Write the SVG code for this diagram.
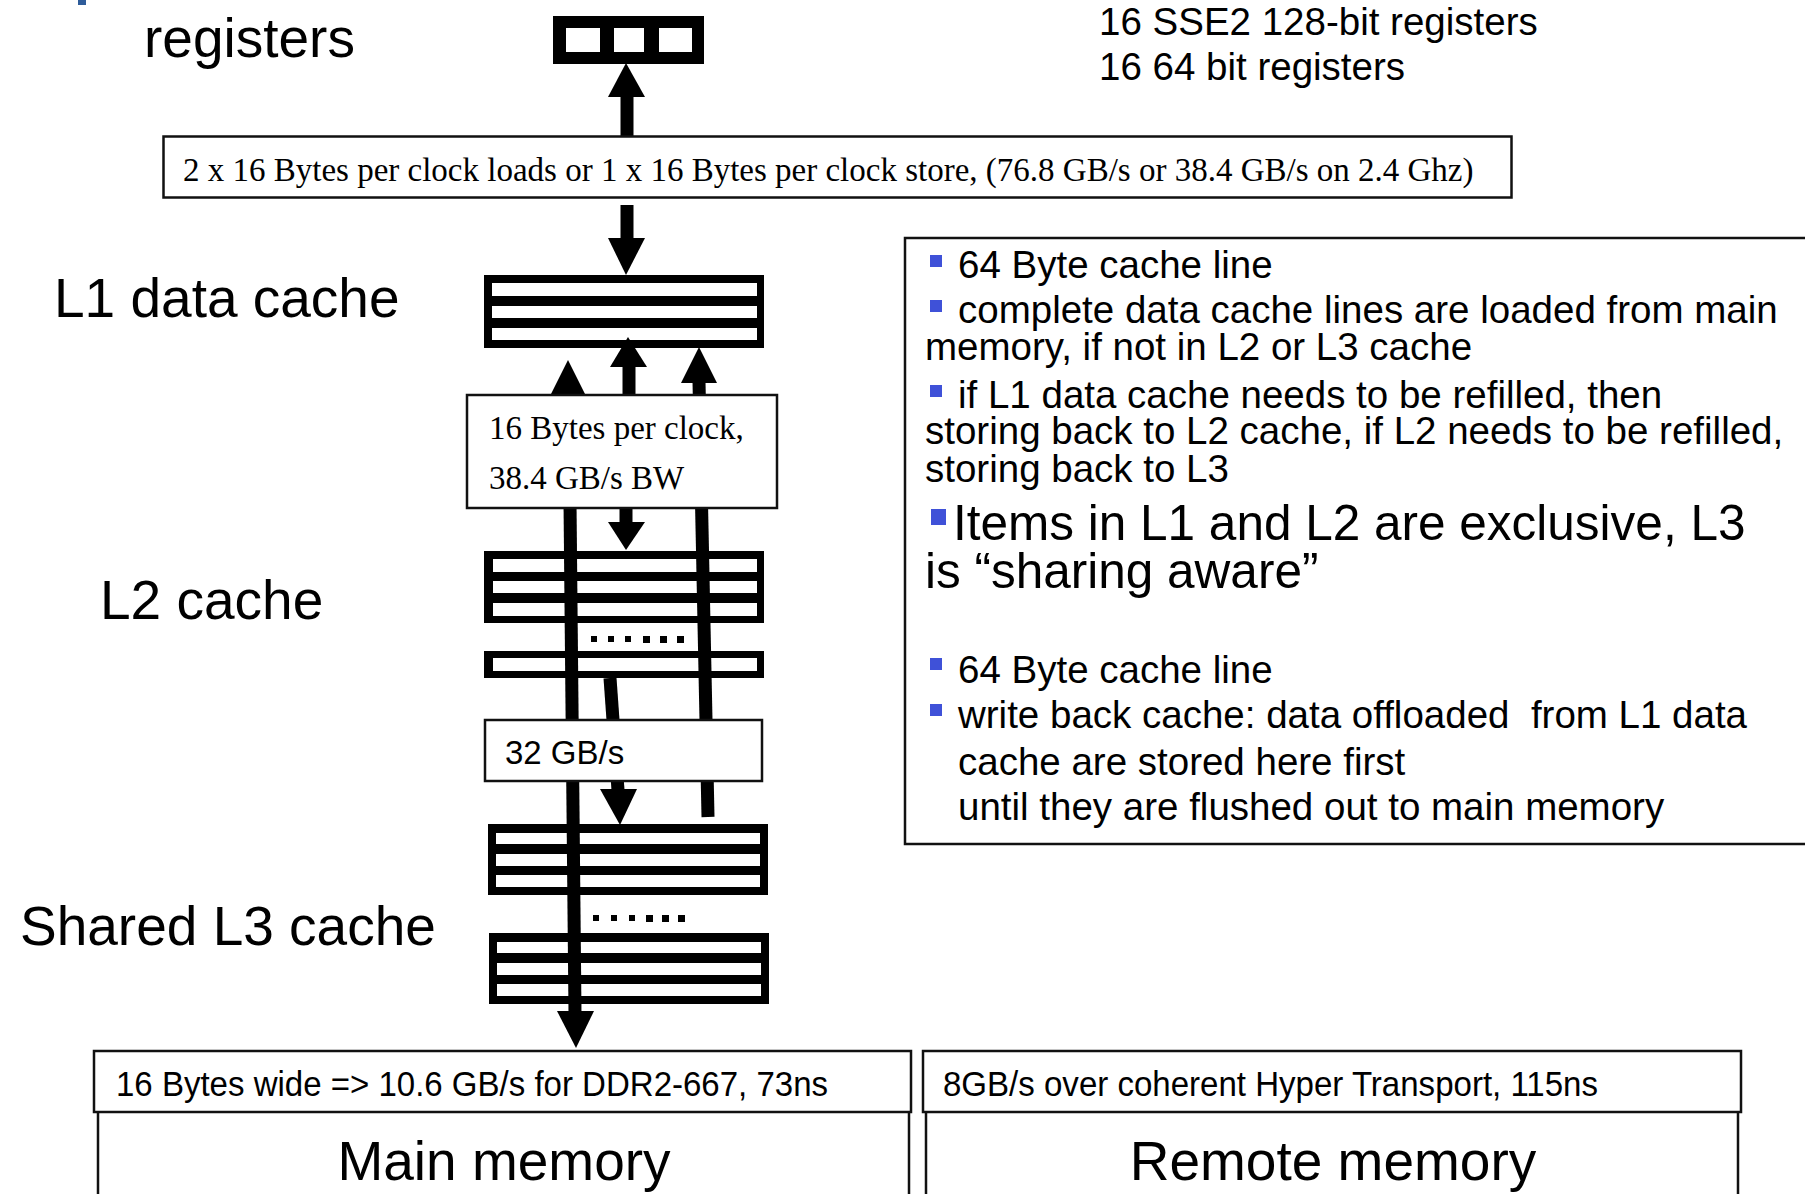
<svg xmlns="http://www.w3.org/2000/svg" width="1805" height="1194" viewBox="0 0 1805 1194">
<style>
.sans{font-family:"Liberation Sans",Arial,sans-serif;fill:#000}
.serif{font-family:"Liberation Serif","Times New Roman",serif;fill:#000}
.big{font-size:55px}
.mid{font-size:38.5px}
.box{fill:#fff;stroke:#111;stroke-width:2.5}
.thin{fill:none;stroke:#111;stroke-width:2.5}
.blk{fill:#000}
.wht{fill:#fff}
.shaft{stroke:#000;stroke-width:13;fill:none}
.head{fill:#000}
.bul{fill:#3f51d8}
</style>
<rect width="1805" height="1194" fill="#fff"/>
<rect x="78" y="0" width="8" height="5" fill="#2e5c9a"/>

<g id="registers">
  <rect class="blk" x="553" y="16" width="151" height="48"/>
  <rect class="wht" x="566" y="28" width="34" height="24"/>
  <rect class="wht" x="614" y="28" width="30" height="24"/>
  <rect class="wht" x="659" y="28" width="33" height="24"/>
  <text class="sans big" x="144" y="57">registers</text>
</g>
<g id="register-info">
  <text class="sans" font-size="38.5" x="1099" y="35">16 SSE2 128-bit registers</text>
  <text class="sans" font-size="38.5" x="1099" y="80">16 64 bit registers</text>
</g>

<g id="l1-cache">
  <rect class="blk" x="484" y="275" width="280" height="73"/>
  <rect class="wht" x="492" y="283" width="265" height="13"/>
  <rect class="wht" x="492" y="306" width="265" height="12"/>
  <rect class="wht" x="492" y="328" width="265" height="12"/>
  <text class="sans big" x="54" y="317">L1 data cache</text>
</g>

<g id="l2-cache">
  <rect class="blk" x="484" y="551" width="280" height="72"/>
  <rect class="wht" x="493" y="559" width="264" height="13"/>
  <rect class="wht" x="493" y="581" width="264" height="12"/>
  <rect class="wht" x="493" y="603" width="264" height="13"/>
  <rect class="blk" x="484" y="651" width="280" height="27"/>
  <rect class="wht" x="493" y="658" width="264" height="13"/>
  <g class="blk">
    <rect x="591" y="636" width="6" height="6"/><rect x="608" y="636" width="6" height="6"/><rect x="625" y="636" width="6" height="6"/>
    <rect x="643" y="636" width="7" height="7"/><rect x="660" y="636" width="7" height="7"/><rect x="677" y="636" width="7" height="7"/>
  </g>
  <text class="sans big" x="100" y="619">L2 cache</text>
</g>

<g id="l3-cache">
  <rect class="blk" x="488" y="824" width="280" height="71"/>
  <rect class="wht" x="496" y="833" width="264" height="11"/>
  <rect class="wht" x="496" y="854" width="264" height="12"/>
  <rect class="wht" x="496" y="875" width="264" height="12"/>
  <rect class="blk" x="489" y="933" width="280" height="71"/>
  <rect class="wht" x="497" y="942" width="264" height="11"/>
  <rect class="wht" x="497" y="963" width="264" height="12"/>
  <rect class="wht" x="497" y="984" width="264" height="12"/>
  <g class="blk">
    <rect x="593" y="915" width="6" height="6"/><rect x="611" y="915" width="6" height="6"/><rect x="629" y="915" width="6" height="6"/>
    <rect x="646" y="915" width="7" height="7"/><rect x="662" y="915" width="7" height="7"/><rect x="678" y="915" width="7" height="7"/>
  </g>
  <text class="sans big" x="20" y="945">Shared L3 cache</text>
</g>

<g id="connectors">
  <!-- box1 -> registers -->
  <line class="shaft" x1="627" y1="137" x2="627" y2="96"/>
  <polygon class="head" points="608,97 645,97 626,63"/>
  <!-- box1 -> L1 -->
  <line class="shaft" x1="627" y1="205" x2="627" y2="239"/>
  <polygon class="head" points="608,238 645,238 626,275"/>
  <!-- left long line: up to L1 and down to main memory -->
  <polygon class="head" points="550,396 586,396 568,360"/>
  <line class="shaft" x1="569" y1="400" x2="575" y2="1013"/>
  <polygon class="head" points="557,1011 594,1011 576,1048"/>
  <!-- middle: L2 -> L1 -->
  <line class="shaft" x1="629" y1="396" x2="629" y2="366"/>
  <polygon class="head" points="610,367 647,367 628,337"/>
  <!-- middle: L1 -> L2 -->
  <line class="shaft" x1="626" y1="505" x2="626" y2="523"/>
  <polygon class="head" points="608,522 645,522 626,550"/>
  <!-- right line: up to L1 -->
  <polygon class="head" points="681,383 717,383 699,347"/>
  <line class="shaft" x1="699" y1="382" x2="708" y2="817"/>
  <!-- middle: L2 -> L3 -->
  <line class="shaft" x1="610" y1="678" x2="618" y2="790"/>
  <polygon class="head" points="600,789 637,789 620,825"/>
</g>

<g id="bw-registers">
  <rect class="box" x="163.5" y="136.5" width="1348" height="61"/>
  <text class="serif" font-size="33" x="183" y="181">2 x 16 Bytes per clock loads or 1 x 16 Bytes per clock store, (76.8 GB/s or 38.4 GB/s on 2.4 Ghz)</text>
</g>

<g id="bw-l1-l2">
  <rect class="box" x="467" y="395" width="310" height="113"/>
  <text class="serif" font-size="33" x="489" y="439">16 Bytes per clock,</text>
  <text class="serif" font-size="33" x="489" y="489">38.4 GB/s BW</text>
</g>

<g id="bw-l2-l3">
  <rect class="box" x="485" y="720" width="277" height="61"/>
  <text class="sans" font-size="33" x="505" y="764">32 GB/s</text>
</g>

<g id="info">
  <rect class="box" x="905" y="238" width="920" height="606"/>
  <rect class="bul" x="930" y="255" width="12" height="12"/>
  <text class="sans mid" x="958" y="278">64 Byte cache line</text>
  <rect class="bul" x="930" y="300" width="12" height="12"/>
  <text class="sans mid" x="958" y="323">complete data cache lines are loaded from main</text>
  <text class="sans mid" x="925" y="360">memory, if not in L2 or L3 cache</text>
  <rect class="bul" x="930" y="385" width="12" height="12"/>
  <text class="sans mid" x="958" y="408">if L1 data cache needs to be refilled, then</text>
  <text class="sans mid" x="925" y="444">storing back to L2 cache, if L2 needs to be refilled,</text>
  <text class="sans mid" x="925" y="482">storing back to L3</text>
  <rect class="bul" x="931" y="509" width="15" height="16"/>
  <text class="sans" font-size="49.5" x="953" y="540">Items in L1 and L2 are exclusive, L3</text>
  <text class="sans" font-size="49.5" x="925" y="588">is “sharing aware”</text>
  <rect class="bul" x="930" y="658" width="12" height="12"/>
  <text class="sans mid" x="958" y="683">64 Byte cache line</text>
  <rect class="bul" x="930" y="704" width="12" height="12"/>
  <text class="sans mid" x="958" y="728" xml:space="preserve">write back cache: data offloaded  from L1 data</text>
  <text class="sans mid" x="958" y="775">cache are stored here first</text>
  <text class="sans mid" x="958" y="820">until they are flushed out to main memory</text>
</g>

<g id="main-memory">
  <rect class="box" x="94" y="1051" width="817" height="61"/>
  <text class="sans" font-size="35" x="116" y="1096" textLength="712" lengthAdjust="spacingAndGlyphs">16 Bytes wide =&gt; 10.6 GB/s for DDR2-667, 73ns</text>
  <path class="thin" d="M98,1112 V1200 M909,1112 V1200"/>
  <text class="sans big" x="504" y="1180" text-anchor="middle">Main memory</text>
</g>

<g id="remote-memory">
  <rect class="box" x="923" y="1051" width="818" height="61"/>
  <text class="sans" font-size="35" x="943" y="1096" textLength="655" lengthAdjust="spacingAndGlyphs">8GB/s over coherent Hyper Transport, 115ns</text>
  <path class="thin" d="M926,1112 V1200 M1738,1112 V1200"/>
  <text class="sans big" x="1333" y="1180" text-anchor="middle">Remote memory</text>
</g>
</svg>
